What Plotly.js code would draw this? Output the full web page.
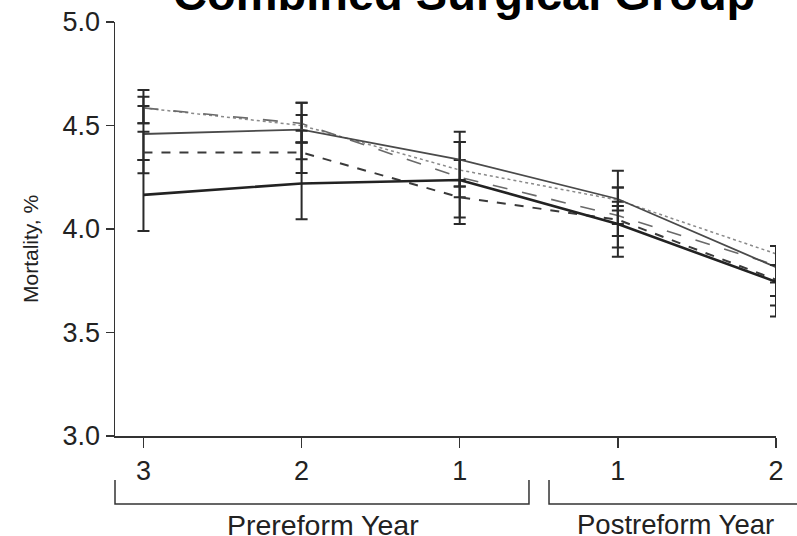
<!DOCTYPE html>
<html>
<head>
<meta charset="utf-8">
<script src="https://cdn.plot.ly/plotly-3.0.1.min.js"></script>
<style>html,body{margin:0;padding:0;background:#fff;}#chart{width:797px;height:536px;}</style>
</head>
<body>
<div id="chart"></div>
<script>
// Positions along the x axis (categories) and their tick labels
const xPos = [0, 1, 2, 3, 4];
const xLabels = ['3', '2', '1', '1', '2'];
const yTicks = [3.0, 3.5, 4.0, 4.5, 5.0];

// Series values (mortality, %)
const solidThick = [4.165, 4.22, 4.237, 4.024, 3.745];
const solidThin  = [4.459, 4.48, 4.335, 4.145, 3.815];
const shortDash  = [4.37, 4.37, 4.153, 4.045, 3.755];
const longDash   = [4.585, 4.51, 4.25, 4.065, 3.825];
const dotted     = [4.585, 4.50, 4.285, 4.14, 3.88];

// Upper / lower ends of the error bars
const solidThickHi = [4.333, 4.418, 4.42, 4.201, 3.918];
const solidThickLo = [3.990, 4.047, 4.024, 3.866, 3.577];
const solidThinHi  = [4.594, 4.61, 4.47, 4.282, 3.918];
const solidThinLo  = [4.333, 4.337, 4.205, 4.024, 3.676];
const shortDashHi  = [4.470, 4.475, 4.237, 4.111, 3.826];
const shortDashLo  = [4.269, 4.270, 4.056, 3.911, 3.631];
const longDashHi   = [4.671, 4.61, 4.42, 4.132, 3.918];
const longDashLo   = [4.511, 4.418, 4.153, 3.966, 3.742];
const dottedHi     = [4.639, 4.551, 4.333, 4.201, 3.918];
const dottedLo     = [4.511, 4.418, 4.205, 4.089, 3.826];

function mk(y, hi, lo, color, width, dash) {
  return {
    x: xPos, y: y, type: 'scatter', mode: 'lines',
    line: {color: color, width: width, dash: dash},
    error_y: {
      type: 'data', symmetric: false,
      array: hi.map((v, i) => v - y[i]),
      arrayminus: lo.map((v, i) => y[i] - v),
      color: '#2a2a2a', thickness: 2, width: 6
    },
    showlegend: false, hoverinfo: 'skip'
  };
}

const data = [
  mk(dotted, dottedHi, dottedLo, '#8a8a8a', 1.5, 'dot'),
  mk(longDash, longDashHi, longDashLo, '#6a6a6a', 1.6, 'longdash'),
  mk(solidThin, solidThinHi, solidThinLo, '#4a4a4a', 1.8, 'solid'),
  mk(shortDash, shortDashHi, shortDashLo, '#3a3a3a', 2, 'dash'),
  mk(solidThick, solidThickHi, solidThickLo, '#222222', 2.6, 'solid')
];

const FONT = 'Liberation Sans, Arial, Helvetica, sans-serif';

const layout = {
  width: 797, height: 536,
  margin: {l: 115, r: 21, t: 22, b: 100},
  paper_bgcolor: '#fff', plot_bgcolor: '#fff',
  font: {family: FONT, color: '#222'},
  showlegend: false,
  xaxis: {
    range: [-0.18, 4.0], tickvals: xPos, ticktext: xLabels,
    showgrid: false, zeroline: false, showline: true, linecolor: '#333', linewidth: 1.5,
    ticks: 'outside', ticklen: 10, tickwidth: 1.5, tickcolor: '#333',
    tickfont: {family: FONT, size: 27, color: '#222'}
  },
  yaxis: {
    range: [3.0, 5.0], tickvals: yTicks, tickformat: '.1f',
    showgrid: false, zeroline: false, showline: true, linecolor: '#333', linewidth: 1.5,
    ticks: 'outside', ticklen: 8, tickwidth: 1.5, tickcolor: '#333',
    tickfont: {family: FONT, size: 27, color: '#222'}
  },
  annotations: [
    {text: '<b>Combined Surgical Group</b>', xref: 'paper', yref: 'paper',
     x: (464 - 115) / 661, y: 1.0, xanchor: 'center', yanchor: 'bottom',
     showarrow: false, font: {family: FONT, size: 47, color: '#000'}},
    {text: 'Mortality, %', xref: 'paper', yref: 'paper', textangle: -90,
     x: (30 - 115) / 661, y: (436 - 249) / 414, xanchor: 'center', yanchor: 'middle',
     showarrow: false, font: {family: FONT, size: 21, color: '#222'}},
    {text: 'Prereform Year', xref: 'paper', yref: 'paper',
     x: (323 - 115) / 661, y: -(507 - 436) / 414, xanchor: 'center', yanchor: 'top',
     showarrow: false, font: {family: FONT, size: 28.5, color: '#222'}},
    {text: 'Postreform Year', xref: 'paper', yref: 'paper',
     x: (675 - 115) / 661, y: -(507 - 436) / 414, xanchor: 'center', yanchor: 'top',
     showarrow: false, font: {family: FONT, size: 27.5, color: '#222'}}
  ],
  shapes: [
    {type: 'path', xref: 'paper', yref: 'paper',
     path: 'M 0,-0.1063 L 0,-0.1643 L 0.6263,-0.1643 L 0.6263,-0.1063',
     line: {color: '#333', width: 1.5}},
    {type: 'path', xref: 'paper', yref: 'paper',
     path: 'M 0.6566,-0.1063 L 0.6566,-0.1643 L 1.06,-0.1643',
     line: {color: '#333', width: 1.5}}
  ]
};

Plotly.newPlot('chart', data, layout, {staticPlot: true, displayModeBar: false});
</script>
</body>
</html>
